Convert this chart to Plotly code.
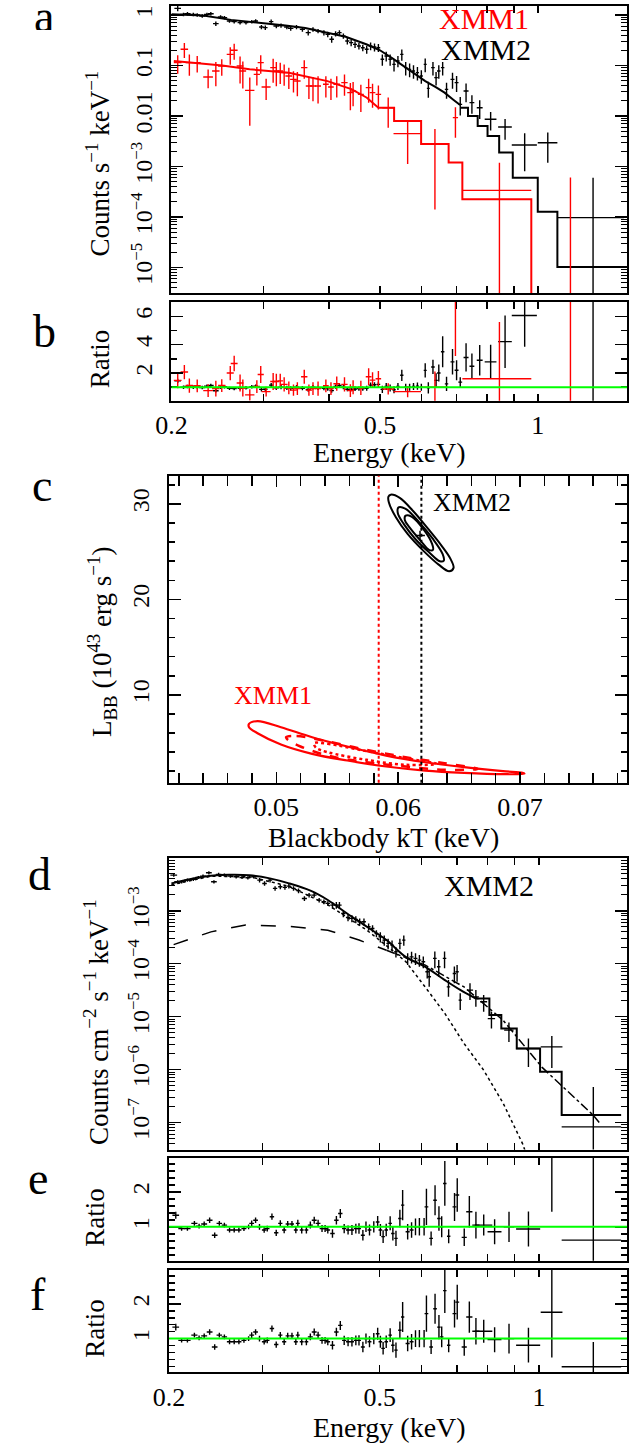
import math
import plotly.graph_objects as go

W, H = 629, 1445
FONT = "Liberation Serif, Times New Roman, DejaVu Serif, serif"
RED = "#ff0000"
GREEN = "#00ff00"

# ================= Panel a / b : XMM2 (black) =================
a2_E = [0.2056, 0.2109, 0.2146, 0.2202, 0.2240, 0.2290, 0.2338, 0.2378, 0.2431, 0.2482,
        0.2525, 0.2581, 0.2635, 0.2704, 0.2775, 0.2847, 0.2896, 0.2970, 0.3021, 0.3100,
        0.3171, 0.3237, 0.3321, 0.3378, 0.3465, 0.3556, 0.3648, 0.3725, 0.3809, 0.3908,
        0.3975, 0.4044, 0.4114, 0.4184, 0.4257, 0.4332, 0.4405, 0.4481, 0.4558, 0.4636,
        0.4717, 0.4798, 0.4881, 0.4965, 0.5052, 0.5139, 0.5228, 0.5318, 0.5410, 0.5503,
        0.5598, 0.5695, 0.5793, 0.5894, 0.5996, 0.6099, 0.6183, 0.6310, 0.6397, 0.6474,
        0.6585, 0.6698, 0.6876, 0.7000, 0.7114, 0.7298, 0.7488, 0.7749, 0.8130, 0.8662,
        0.9441, 1.0450, 1.2750]
a2_v = [1.35, 1.03, 1.06, 1.03, 1.00, 0.955, 1.03, 1.06, 0.674, 0.913,
        0.886, 0.761, 0.738, 0.705, 0.705, 0.738, 0.761, 0.578, 0.561, 0.738,
        0.605, 0.620, 0.578, 0.544, 0.578, 0.520, 0.447, 0.520, 0.482, 0.447,
        0.414, 0.330, 0.427, 0.447, 0.384, 0.306, 0.283, 0.262, 0.243, 0.225,
        0.209, 0.243, 0.232, 0.225, 0.1325, 0.154, 0.1325, 0.1054, 0.1228, 0.166,
        0.0906, 0.0839, 0.0778, 0.0721, 0.0619, 0.1054, 0.0353, 0.0906, 0.0574, 0.0778,
        0.0906, 0.0337, 0.0532, 0.0457, 0.0170, 0.0313, 0.0184, 0.0146, 0.0086, 0.00605,
        0.00267, 0.00296, 9.7e-5]
a2_rerr = [0.12, 0.08, 0.08, 0.08, 0.08, 0.08, 0.08, 0.08, 0.10, 0.08,
           0.08, 0.08, 0.08, 0.08, 0.08, 0.08, 0.08, 0.10, 0.10, 0.10,
           0.10, 0.10, 0.10, 0.10, 0.10, 0.10, 0.12, 0.10, 0.10, 0.12,
           0.12, 0.15, 0.12, 0.12, 0.12, 0.15, 0.15, 0.15, 0.15, 0.15,
           0.18, 0.18, 0.18, 0.18, 0.25, 0.22, 0.25, 0.28, 0.25, 0.25,
           0.30, 0.30, 0.30, 0.30, 0.30, 0.30, 0.35, 0.30, 0.30, 0.30,
           0.30, 0.35, 0.35, 0.35, 0.40, 0.40, 0.40, 0.40, 0.40, 0.44,
           0.70, 0.60, 5.2]
a2_dE = [0.003, 0.003, 0.003, 0.003, 0.003, 0.003, 0.003, 0.003, 0.003, 0.003,
         0.003, 0.003, 0.003, 0.003, 0.003, 0.003, 0.003, 0.003, 0.003, 0.003,
         0.004, 0.004, 0.004, 0.004, 0.004, 0.004, 0.004, 0.004, 0.004, 0.004,
         0.004, 0.004, 0.004, 0.004, 0.004, 0.004, 0.004, 0.004, 0.004, 0.004,
         0.004, 0.004, 0.004, 0.004, 0.004, 0.004, 0.004, 0.004, 0.004, 0.004,
         0.004, 0.004, 0.004, 0.004, 0.004, 0.004, 0.004, 0.005, 0.005, 0.005,
         0.005, 0.005, 0.006, 0.006, 0.006, 0.008, 0.008, 0.010, 0.021, 0.026,
         0.052, 0.045, 0.185]
b2_r = [1.45, 1.00, 1.05, 1.00, 1.02, 0.98, 1.08, 1.12, 0.75, 1.00,
        1.03, 0.92, 0.90, 0.93, 0.96, 1.03, 1.08, 0.85, 0.86, 1.15,
        0.96, 1.00, 0.95, 0.92, 1.00, 0.93, 0.84, 1.00, 0.96, 0.93,
        0.90, 0.76, 1.05, 1.12, 1.00, 0.86, 0.86, 0.88, 0.90, 0.90,
        0.93, 1.15, 1.18, 1.20, 0.85, 1.05, 0.95, 0.82, 1.05, 1.84,
        1.00, 1.00, 1.05, 1.08, 1.00, 2.19, 0.96, 2.43, 1.48, 2.00,
        3.50, 1.24, 2.79, 2.20, 1.36, 3.10, 2.48, 2.90, 2.79, 4.21,
        6.05, 20.0, 9.5]
b2_err = [0.15, 0.12, 0.12, 0.12, 0.12, 0.12, 0.12, 0.12, 0.12, 0.12,
          0.12, 0.12, 0.12, 0.12, 0.12, 0.12, 0.12, 0.15, 0.15, 0.15,
          0.15, 0.15, 0.15, 0.15, 0.15, 0.15, 0.15, 0.15, 0.15, 0.15,
          0.15, 0.15, 0.15, 0.15, 0.15, 0.15, 0.15, 0.15, 0.15, 0.15,
          0.18, 0.18, 0.18, 0.18, 0.25, 0.25, 0.25, 0.25, 0.25, 0.40,
          0.25, 0.25, 0.25, 0.25, 0.25, 0.50, 0.40, 0.50, 0.50, 0.60,
          1.10, 0.50, 0.90, 0.70, 0.35, 1.00, 0.90, 1.07, 1.20, 1.85,
          2.20, 12.0, 12.0]

# ================= Panel a / b : XMM1 (red) =================
a1_E = [0.2056, 0.2117, 0.2164, 0.2240, 0.2350, 0.2431, 0.2495, 0.2590, 0.2635, 0.2704,
        0.2737, 0.2822, 0.2911, 0.2961, 0.3032, 0.3127, 0.3171, 0.3226, 0.3282, 0.3350,
        0.3419, 0.3478, 0.3585, 0.3659, 0.3725, 0.3809, 0.3942, 0.4031, 0.4135, 0.4278,
        0.4390, 0.4443, 0.4597, 0.4757, 0.4839, 0.4965, 0.5184, 0.5646, 0.6365, 0.6965,
        0.8450, 1.1544]
a1_v = [0.1138, 0.209, 0.1138, 0.1138, 0.0592, 0.0778, 0.0977, 0.166, 0.1997, 0.0977,
        0.0778, 0.0322, 0.0668, 0.1138, 0.0375, 0.0906, 0.0778, 0.0778, 0.0721, 0.0619,
        0.0532, 0.0493, 0.0906, 0.0393, 0.0393, 0.0393, 0.0424, 0.0375, 0.0424, 0.0457,
        0.0290, 0.0313, 0.0268, 0.0364, 0.0290, 0.0268, 0.0146, 0.00447, 0.00283, 0.00927,
        3.37e-4, 2e-6]
a1_rerr = [0.40, 0.33, 0.45, 0.36, 0.40, 0.50, 0.36, 0.38, 0.35, 0.55,
           0.55, 0.80, 0.40, 0.40, 0.45, 0.50, 0.50, 0.45, 0.45, 0.45,
           0.45, 0.50, 0.40, 0.45, 0.50, 0.55, 0.45, 0.45, 0.45, 0.45,
           0.55, 0.50, 0.55, 0.50, 0.50, 0.50, 0.60, 0.75, 0.95, 0.60,
           2.5, 300.0]
a1_dE = [0.0035, 0.0035, 0.0035, 0.0035, 0.005, 0.004, 0.004, 0.004, 0.004, 0.004,
         0.004, 0.0058, 0.004, 0.004, 0.006, 0.004, 0.004, 0.004, 0.005, 0.005,
         0.005, 0.005, 0.005, 0.005, 0.005, 0.005, 0.005, 0.005, 0.006, 0.006,
         0.006, 0.006, 0.006, 0.006, 0.006, 0.006, 0.0133, 0.034, 0.038, 0.008,
         0.127, 0.0]
b1_r = [1.48, 2.07, 1.12, 1.10, 0.76, 0.90, 1.12, 2.00, 2.67, 1.30,
        0.95, 0.46, 1.05, 1.90, 0.69, 1.40, 1.40, 1.45, 1.20, 0.95,
        0.80, 0.90, 1.74, 0.80, 0.90, 0.90, 1.10, 0.90, 1.25, 1.20,
        0.76, 1.00, 0.95, 1.74, 1.50, 1.60, 0.88, 0.69, 1.00, 7.70,
        1.60, 3.00]
b1_err = [0.55, 0.50, 0.50, 0.45, 0.45, 0.55, 0.45, 0.50, 0.55, 0.60,
          0.60, 0.40, 0.45, 0.60, 0.35, 0.60, 0.55, 0.50, 0.50, 0.45,
          0.40, 0.45, 0.50, 0.40, 0.45, 0.50, 0.45, 0.45, 0.50, 0.50,
          0.45, 0.50, 0.50, 0.60, 0.55, 0.55, 0.40, 0.40, 1.10, 4.50,
          4.00, 12.0]

# models, panel a (smooth part + binned steps)
m2s_E = [0.200, 0.230, 0.260, 0.297, 0.330, 0.360, 0.397, 0.430, 0.472, 0.500,
         0.530, 0.560, 0.585, 0.610, 0.640, 0.664, 0.690, 0.711]
m2s_v = [1.03, 0.98, 0.80, 0.70, 0.62, 0.55, 0.45, 0.37, 0.26, 0.20,
         0.135, 0.09, 0.066, 0.049, 0.037, 0.029, 0.021, 0.0165]
m2h_E = [0.711, 0.736, 0.768, 0.802, 0.844, 0.896, 1.000, 1.090, 1.480]
m2h_v = [0.0146, 0.0100, 0.0063, 0.0040, 0.0019, 6.0e-4, 1.27e-4, 1.02e-5, 1.02e-5]
m1s_E = [0.2021, 0.250, 0.282, 0.335, 0.397, 0.441, 0.472, 0.4965]
m1s_v = [0.123, 0.100, 0.084, 0.072, 0.049, 0.034, 0.023, 0.0146]
m1h_E = [0.4965, 0.532, 0.599, 0.676, 0.718, 0.972, 1.480]
m1h_v = [0.0146, 0.0080, 0.0028, 0.0012, 2.24e-4, 1e-8, 1e-8]

# ================= Panel c : contours =================
c2_outer_T = [0.05939, 0.06013, 0.06124, 0.06246, 0.06355, 0.06429, 0.06454, 0.06418,
              0.06332, 0.06205, 0.06077, 0.05981, 0.05923, 0.05920, 0.05939]
c2_outer_L = [30.97, 30.63, 29.23, 27.38, 25.63, 24.24, 23.30, 22.94,
              23.64, 25.11, 26.86, 28.60, 30.17, 30.76, 30.97]
c2_mid_T = [0.06003, 0.06061, 0.06173, 0.06285, 0.06364, 0.06374, 0.06342, 0.06253,
            0.06140, 0.06045, 0.05997, 0.06003]
c2_mid_L = [29.64, 29.48, 28.07, 26.33, 24.76, 24.06, 23.99, 24.93,
            26.33, 27.91, 29.02, 29.64]
c2_in_T = [0.06061, 0.06109, 0.06205, 0.06278, 0.06285, 0.06253, 0.06183, 0.06093,
           0.06054, 0.06061]
c2_in_L = [28.77, 28.67, 27.38, 25.81, 25.18, 25.18, 26.16, 27.55, 28.32, 28.77]
c2_best_T = [0.06179]
c2_best_L = [26.68]
c1_outer_T = [0.04776, 0.04846, 0.05038, 0.05294, 0.05582, 0.05901, 0.06221, 0.06540,
              0.06860, 0.07020, 0.07036, 0.06860, 0.06540, 0.06221, 0.05901, 0.05582,
              0.05294, 0.05038, 0.04846, 0.04776, 0.04776]
c1_outer_L = [6.96, 7.24, 6.61, 5.56, 4.59, 3.64, 2.94, 2.42,
              2.00, 1.83, 1.73, 1.69, 1.83, 2.07, 2.49, 3.12,
              3.82, 4.80, 5.98, 6.61, 6.96]
c1_mid_T = [0.05080, 0.05166, 0.05422, 0.05741, 0.06061, 0.06380, 0.06652, 0.06380,
            0.06061, 0.05741, 0.05422, 0.05198, 0.05102, 0.05080]
c1_mid_L = [5.56, 5.70, 5.11, 4.24, 3.47, 2.84, 2.25, 2.15,
            2.49, 2.94, 3.64, 4.59, 5.21, 5.56]
c1_in_T = [0.05310, 0.05422, 0.05741, 0.06061, 0.06316, 0.06061, 0.05741, 0.05422,
           0.05326, 0.05310]
c1_in_L = [4.93, 4.87, 4.10, 3.36, 2.77, 2.67, 3.19, 3.99, 4.45, 4.93]
best_T_xmm1 = 0.0584
best_T_xmm2 = 0.0619

# ================= Panel d : unfolded XMM2 =================
d_E = [0.2041, 0.2076, 0.2112, 0.2166, 0.2222, 0.2272, 0.2318, 0.2378, 0.2431, 0.2481,
       0.2544, 0.2611, 0.2678, 0.2747, 0.2818, 0.2890, 0.2965, 0.3030, 0.3103, 0.3172,
       0.3245, 0.3311, 0.3368, 0.3437, 0.3513, 0.3604, 0.3678, 0.3760, 0.3843, 0.3923,
       0.3990, 0.4072, 0.4141, 0.4197, 0.4269, 0.4357, 0.4431, 0.4507, 0.4584, 0.4670,
       0.4766, 0.4848, 0.4930, 0.5015, 0.5101, 0.5188, 0.5277, 0.5367, 0.5460, 0.5554,
       0.5648, 0.5745, 0.5844, 0.5944, 0.6046, 0.6150, 0.6203, 0.6357, 0.6466, 0.6632,
       0.6746, 0.6921, 0.7004, 0.7100, 0.7408, 0.7600, 0.7862, 0.8133, 0.8776, 0.9553,
       1.0577, 1.2670]
d_v = [4.73e-3, 3.54e-3, 3.54e-3, 3.80e-3, 3.92e-3, 4.27e-3, 4.53e-3, 5.24e-3, 3.54e-3, 4.87e-3,
       4.73e-3, 4.53e-3, 4.40e-3, 4.27e-3, 4.21e-3, 4.40e-3, 3.80e-3, 3.29e-3, 3.80e-3, 2.65e-3,
       2.85e-3, 2.77e-3, 2.93e-3, 2.65e-3, 2.39e-3, 1.71e-3, 1.98e-3, 1.98e-3, 1.59e-3, 1.48e-3,
       1.38e-3, 1.28e-3, 1.28e-3, 1.28e-3, 8.92e-4, 7.49e-4, 7.18e-4, 6.87e-4, 6.20e-4, 6.20e-4,
       4.99e-4, 4.64e-4, 3.73e-4, 3.23e-4, 2.79e-4, 2.42e-4, 2.25e-4, 1.68e-4, 2.42e-4, 2.79e-4,
       1.26e-4, 1.35e-4, 1.26e-4, 1.17e-4, 1.09e-4, 7.04e-5, 5.66e-5, 1.26e-4, 8.75e-5, 1.26e-4,
       3.66e-5, 6.55e-5, 7.04e-5, 2.05e-5, 3.17e-5, 2.37e-5, 1.91e-5, 9.2e-6, 5.56e-6, 2.50e-6,
       2.69e-6, 8.27e-8]
d_rerr = [0.07, 0.07, 0.07, 0.07, 0.07, 0.07, 0.07, 0.07, 0.07, 0.07,
          0.07, 0.07, 0.07, 0.07, 0.07, 0.07, 0.10, 0.10, 0.10, 0.10,
          0.10, 0.10, 0.10, 0.10, 0.10, 0.10, 0.10, 0.10, 0.10, 0.10,
          0.10, 0.15, 0.15, 0.15, 0.15, 0.15, 0.15, 0.15, 0.15, 0.15,
          0.15, 0.15, 0.15, 0.22, 0.22, 0.22, 0.22, 0.22, 0.22, 0.22,
          0.25, 0.25, 0.25, 0.25, 0.25, 0.25, 0.35, 0.35, 0.35, 0.35,
          0.35, 0.35, 0.35, 0.35, 0.35, 0.35, 0.35, 0.35, 0.40, 0.55,
          0.60, 4.7]
d_dE = [0.003, 0.003, 0.003, 0.003, 0.003, 0.003, 0.003, 0.003, 0.003, 0.003,
        0.003, 0.003, 0.003, 0.003, 0.003, 0.003, 0.003, 0.003, 0.003, 0.003,
        0.003, 0.003, 0.003, 0.003, 0.003, 0.004, 0.004, 0.004, 0.004, 0.004,
        0.004, 0.004, 0.004, 0.004, 0.004, 0.004, 0.004, 0.004, 0.004, 0.004,
        0.004, 0.004, 0.004, 0.004, 0.004, 0.004, 0.004, 0.004, 0.004, 0.004,
        0.005, 0.005, 0.005, 0.005, 0.005, 0.005, 0.005, 0.005, 0.005, 0.005,
        0.005, 0.005, 0.005, 0.005, 0.010, 0.010, 0.012, 0.013, 0.018, 0.050,
        0.050, 0.163]
md_s_E = [0.202, 0.220, 0.240, 0.260, 0.284, 0.310, 0.337, 0.370, 0.399, 0.434,
          0.473, 0.515, 0.560, 0.610, 0.664, 0.710, 0.760]
md_s_v = [3.3e-3, 4.0e-3, 4.6e-3, 4.8e-3, 4.7e-3, 4.1e-3, 3.3e-3, 2.4e-3, 1.6e-3, 8.9e-4,
          5.0e-4, 2.8e-4, 1.35e-4, 8.7e-5, 4.9e-5, 3.2e-5, 2.2e-5]
md_h_E = [0.760, 0.806, 0.849, 0.908, 1.005, 1.104, 1.430]
md_h_v = [2.2e-5, 1.07e-5, 6.0e-6, 2.5e-6, 9.1e-7, 1.38e-7, 1.38e-7]
pl_E = [0.204, 0.240, 0.279, 0.337, 0.399, 0.457, 0.515, 0.610, 0.723, 0.856, 1.014, 1.264, 1.300]
pl_v = [2.3e-4, 4.0e-4, 5.4e-4, 5.1e-4, 4.3e-4, 2.8e-4, 1.8e-4, 9.4e-5, 3.6e-5, 8.5e-6,
        1.1e-6, 1.4e-7, 1.0e-7]
bb_E = [0.202, 0.240, 0.284, 0.337, 0.399, 0.473, 0.515, 0.560, 0.610, 0.664,
        0.722, 0.786, 0.856, 0.931, 0.948]
bb_v = [3.1e-3, 4.5e-3, 4.4e-3, 2.9e-3, 1.3e-3, 4.3e-4, 2.2e-4, 1.1e-4, 3.6e-5, 1.15e-5,
        3.1e-6, 9.8e-7, 2.3e-7, 4e-8, 2.4e-8]

# ================= Panels e / f : ratios =================
ef_E = [0.2059, 0.2112, 0.2166, 0.2233, 0.2279, 0.2330, 0.2386, 0.2439, 0.2489, 0.2544,
        0.2602, 0.2655, 0.2710, 0.2770, 0.2827, 0.2865, 0.2914, 0.2964, 0.3025, 0.3066,
        0.3129, 0.3188, 0.3245, 0.3300, 0.3351, 0.3414, 0.3472, 0.3502, 0.3562, 0.3635,
        0.3698, 0.3761, 0.3825, 0.3891, 0.3943, 0.3990, 0.4072, 0.4142, 0.4213, 0.4285,
        0.4358, 0.4432, 0.4508, 0.4570, 0.4648, 0.4711, 0.4784, 0.4874, 0.4957, 0.5016,
        0.5076, 0.5145, 0.5234, 0.5296, 0.5368, 0.5460, 0.5526, 0.5648, 0.5745, 0.5844,
        0.5944, 0.6067, 0.6129, 0.6255, 0.6363, 0.6472, 0.6550, 0.6639, 0.6752, 0.6926,
        0.7008, 0.7225, 0.7387, 0.7602, 0.7864, 0.8246, 0.8779, 0.9554, 1.0577, 1.2670]
ef_dE = [0.003, 0.003, 0.003, 0.003, 0.003, 0.003, 0.003, 0.003, 0.003, 0.003,
         0.003, 0.003, 0.003, 0.003, 0.003, 0.003, 0.003, 0.003, 0.003, 0.003,
         0.003, 0.003, 0.003, 0.003, 0.003, 0.003, 0.003, 0.003, 0.003, 0.003,
         0.004, 0.004, 0.004, 0.004, 0.004, 0.004, 0.004, 0.004, 0.004, 0.004,
         0.004, 0.004, 0.004, 0.004, 0.004, 0.004, 0.004, 0.004, 0.004, 0.004,
         0.004, 0.004, 0.004, 0.004, 0.004, 0.004, 0.004, 0.005, 0.005, 0.005,
         0.005, 0.005, 0.005, 0.005, 0.005, 0.005, 0.005, 0.005, 0.005, 0.006,
         0.006, 0.008, 0.010, 0.012, 0.030, 0.025, 0.020, 0.050, 0.050, 0.163]
e_r = [1.33, 0.95, 0.95, 1.10, 1.02, 1.08, 1.19, 0.76, 1.10, 1.05,
       0.91, 0.91, 0.91, 0.95, 1.00, 1.10, 1.19, 1.00, 0.91, 0.95,
       1.29, 0.83, 1.10, 0.91, 1.08, 1.08, 0.91, 1.10, 0.91, 0.91,
       1.05, 1.19, 1.10, 0.95, 0.95, 0.91, 0.81, 1.19, 1.38, 0.95,
       0.91, 0.91, 0.95, 0.95, 0.76, 1.00, 0.91, 1.00, 1.14, 0.91,
       0.72, 0.91, 1.10, 0.81, 0.67, 1.24, 1.62, 0.86, 0.91, 1.00,
       1.00, 1.00, 1.57, 0.67, 1.76, 1.24, 1.00, 2.24, 0.73, 1.57,
       1.91, 0.70, 1.43, 1.05, 1.05, 0.86, 1.00, 0.94, 3.10, 0.62]
e_err = [0.10, 0.06, 0.06, 0.07, 0.07, 0.07, 0.08, 0.08, 0.07, 0.07,
         0.07, 0.07, 0.07, 0.07, 0.07, 0.08, 0.08, 0.08, 0.08, 0.08,
         0.09, 0.09, 0.09, 0.09, 0.09, 0.09, 0.09, 0.10, 0.10, 0.10,
         0.10, 0.10, 0.10, 0.10, 0.10, 0.10, 0.12, 0.12, 0.13, 0.13,
         0.13, 0.14, 0.14, 0.15, 0.15, 0.15, 0.16, 0.16, 0.17, 0.17,
         0.18, 0.18, 0.20, 0.20, 0.22, 0.25, 0.43, 0.22, 0.22, 0.24,
         0.25, 0.25, 0.52, 0.20, 0.43, 0.35, 0.30, 0.64, 0.20, 0.40,
         0.48, 0.25, 0.45, 0.38, 0.30, 0.36, 0.43, 0.50, 1.67, 3.00]
f_r = [1.33, 0.95, 0.95, 1.10, 1.02, 1.08, 1.19, 0.76, 1.10, 1.05,
       0.91, 0.91, 0.91, 0.95, 1.00, 1.10, 1.19, 1.00, 0.91, 0.95,
       1.29, 0.83, 1.10, 0.91, 1.08, 1.08, 0.91, 1.10, 0.91, 0.91,
       1.05, 1.19, 1.10, 0.95, 0.95, 0.91, 0.81, 1.19, 1.38, 0.95,
       0.91, 0.91, 0.95, 0.95, 0.76, 1.00, 0.91, 1.00, 1.14, 0.91,
       0.72, 0.91, 1.10, 0.81, 0.67, 1.24, 1.62, 0.86, 0.91, 1.00,
       1.00, 1.00, 1.72, 0.76, 1.86, 1.33, 1.05, 2.38, 0.81, 1.72,
       2.05, 0.76, 1.62, 1.21, 1.21, 0.97, 1.00, 0.81, 1.76, 0.19]
f_err = [0.10, 0.06, 0.06, 0.07, 0.07, 0.07, 0.08, 0.08, 0.07, 0.07,
         0.07, 0.07, 0.07, 0.07, 0.07, 0.08, 0.08, 0.08, 0.08, 0.08,
         0.09, 0.09, 0.09, 0.09, 0.09, 0.09, 0.09, 0.10, 0.10, 0.10,
         0.10, 0.10, 0.10, 0.10, 0.10, 0.10, 0.12, 0.12, 0.13, 0.13,
         0.13, 0.14, 0.14, 0.15, 0.15, 0.15, 0.16, 0.16, 0.17, 0.17,
         0.18, 0.18, 0.20, 0.20, 0.22, 0.25, 0.43, 0.22, 0.22, 0.24,
         0.25, 0.25, 0.52, 0.20, 0.43, 0.35, 0.30, 0.64, 0.20, 0.40,
         0.50, 0.25, 0.45, 0.38, 0.33, 0.36, 0.43, 0.50, 1.30, 0.71]

# tick labels
energy_ticks = [0.2, 0.3, 0.4, 0.5, 0.6, 0.7, 0.8, 0.9, 1.0]
energy_text = ["0.2", "", "", "0.5", "", "", "", "", "1"]
a_yticks = [1e-5, 1e-4, 1e-3, 1e-2, 1e-1, 1]
a_ytext = ["10<sup>\u22125</sup>", "10<sup>\u22124</sup>", "10<sup>\u22123</sup>", "0.01", "0.1", "1"]
d_yticks = [1e-7, 1e-6, 1e-5, 1e-4, 1e-3]
d_ytext = ["10<sup>\u22127</sup>", "10<sup>\u22126</sup>", "10<sup>\u22125</sup>",
           "10<sup>\u22124</sup>", "10<sup>\u22123</sup>"]
c_xticks = [0.05, 0.06, 0.07]
c_yticks = [10, 20, 30]

# ================= figure =================
fig = go.Figure()


def data_trace(x, y, ex, ey, color, xa, ya):
    return go.Scatter(
        x=x, y=y, mode="markers", xaxis=xa, yaxis=ya,
        marker=dict(size=1, color=color),
        error_x=dict(type="data", array=ex, symmetric=True, width=0, thickness=1.4, color=color),
        error_y=dict(type="data", array=ey, symmetric=True, width=0, thickness=1.4, color=color),
        hoverinfo="skip", showlegend=False)


def line_trace(x, y, color, xa, ya, shape="linear", dash="solid", width=2):
    return go.Scatter(x=x, y=y, mode="lines", xaxis=xa, yaxis=ya,
                      line=dict(color=color, width=width, shape=shape, dash=dash),
                      hoverinfo="skip", showlegend=False)


# panel a
fig.add_trace(line_trace(m2s_E, m2s_v, "black", "x", "y"))
fig.add_trace(line_trace(m2h_E, m2h_v, "black", "x", "y", shape="hv"))
fig.add_trace(line_trace(m1s_E, m1s_v, RED, "x", "y"))
fig.add_trace(line_trace(m1h_E, m1h_v, RED, "x", "y", shape="hv"))
fig.add_trace(data_trace(a2_E, a2_v, a2_dE, [v * r for v, r in zip(a2_v, a2_rerr)], "black", "x", "y"))
fig.add_trace(data_trace(a1_E, a1_v, a1_dE, [v * r for v, r in zip(a1_v, a1_rerr)], RED, "x", "y"))
# panel b
fig.add_trace(data_trace(a2_E, b2_r, a2_dE, b2_err, "black", "x2", "y2"))
fig.add_trace(data_trace(a1_E, b1_r, a1_dE, b1_err, RED, "x2", "y2"))
# panel c
fig.add_trace(line_trace(c2_outer_T, c2_outer_L, "black", "x3", "y3", shape="spline"))
fig.add_trace(line_trace(c2_mid_T, c2_mid_L, "black", "x3", "y3", shape="spline"))
fig.add_trace(line_trace(c2_in_T, c2_in_L, "black", "x3", "y3", shape="spline"))
fig.add_trace(go.Scatter(x=c2_best_T, y=c2_best_L, mode="markers", xaxis="x3", yaxis="y3",
                         marker=dict(symbol="cross-thin", size=7, line=dict(color="black", width=1.5)),
                         hoverinfo="skip", showlegend=False))
fig.add_trace(line_trace(c1_outer_T, c1_outer_L, RED, "x3", "y3", shape="spline", width=2.2))
fig.add_trace(line_trace(c1_mid_T, c1_mid_L, RED, "x3", "y3", shape="spline", dash="dash", width=2.5))
fig.add_trace(line_trace(c1_in_T, c1_in_L, RED, "x3", "y3", shape="spline", dash="dot", width=2.5))
# panel d
fig.add_trace(line_trace(bb_E, bb_v, "black", "x4", "y4", dash="dot", width=1.5))
fig.add_trace(line_trace(pl_E[:7], pl_v[:7], "black", "x4", "y4", dash="longdash", width=1.5))
fig.add_trace(line_trace(pl_E[6:], pl_v[6:], "black", "x4", "y4", dash="dashdot", width=1.5))
fig.add_trace(line_trace(md_s_E, md_s_v, "black", "x4", "y4", shape="spline"))
fig.add_trace(line_trace(md_h_E, md_h_v, "black", "x4", "y4", shape="hv"))
fig.add_trace(data_trace(d_E, d_v, d_dE, [v * r for v, r in zip(d_v, d_rerr)], "black", "x4", "y4"))
# panels e, f
fig.add_trace(data_trace(ef_E, e_r, ef_dE, e_err, "black", "x5", "y5"))
fig.add_trace(data_trace(ef_E, f_r, ef_dE, f_err, "black", "x6", "y6"))


# ---------- layout ----------
def xd(l, r):
    return [l / W, r / W]


def yd(t, b):
    return [1 - b / H, 1 - t / H]


TFX = dict(family=FONT, size=26, color="black")
TFY = dict(family=FONT, size=24, color="black")
common = dict(showline=True, linecolor="black", linewidth=2, mirror="ticks", ticks="inside",
              tickcolor="black", tickwidth=1.5, showgrid=False, zeroline=False)
log_minor = [m * 10 ** k for k in range(-9, 1) for m in range(2, 10)]
E_range = [math.log10(0.2), math.log10(1.48)]
Ed_range = [math.log10(0.2), math.log10(1.467)]


def ex_axis(dom, anchor, labels, rng):
    return dict(common, type="log", domain=dom, anchor=anchor, range=rng, tickfont=TFX,
                tickmode="array", tickvals=energy_ticks, ticktext=energy_text, ticklen=7,
                showticklabels=labels, ticklabelstandoff=0)


def minor_lin(step):
    return dict(ticks="inside", ticklen=6, tickcolor="black", tickwidth=1.5,
                dtick=step, tick0=0, showgrid=False)


minor_log = dict(ticks="inside", ticklen=6, tickcolor="black", tickwidth=1,
                 tickmode="array", tickvals=log_minor, showgrid=False)

layout = dict(
    width=W, height=H, margin=dict(l=0, r=0, t=0, b=0), autosize=False,
    paper_bgcolor="white", plot_bgcolor="white", showlegend=False,
    font=dict(family=FONT, color="black"),
    xaxis=ex_axis(xd(160, 629), "y", False, E_range),
    xaxis2=ex_axis(xd(160, 629), "y2", True, E_range),
    xaxis4=ex_axis(xd(157.6, 629), "y4", False, Ed_range),
    xaxis5=ex_axis(xd(157.6, 629), "y5", False, Ed_range),
    xaxis6=ex_axis(xd(157.6, 629), "y6", True, Ed_range),
    xaxis3=dict(common, domain=xd(157.3, 629), anchor="y3", range=[0.04118, 0.07877],
                tickfont=TFX, tickmode="array", tickvals=c_xticks,
                ticktext=["0.05", "0.06", "0.07"], ticklen=11, ticklabelstandoff=0,
                minor=dict(ticks="inside", ticklen=10, tickcolor="black", tickwidth=1.5,
                           dtick=0.002, tick0=0.0, showgrid=False)),
    yaxis=dict(common, type="log", domain=yd(5, 292.7), anchor="x", range=[-5.515, 0.178],
               tickfont=TFY, tickmode="array", tickvals=a_yticks, ticktext=a_ytext,
               tickangle=-90, ticklen=12, ticklabelstandoff=8, minor=minor_log),
    yaxis2=dict(common, domain=yd(301, 400), anchor="x2", range=[0.05, 7.02],
                tickfont=TFY, tickmode="array", tickvals=[2, 4, 6], ticktext=["2", "4", "6"],
                tickangle=-90, ticklen=12, ticklabelstandoff=8, minor=minor_lin(1)),
    yaxis3=dict(common, domain=yd(475, 782.3), anchor="x3", range=[0.79, 32.96],
                tickfont=TFY, tickmode="array", tickvals=c_yticks, ticktext=["10", "20", "30"],
                tickangle=-90, ticklen=12, ticklabelstandoff=8, minor=minor_lin(2)),
    yaxis4=dict(common, type="log", domain=yd(858, 1149.3), anchor="x4", range=[-7.51, -2.01],
                tickfont=TFY, tickmode="array", tickvals=d_yticks, ticktext=d_ytext,
                tickangle=-90, ticklen=12, ticklabelstandoff=8, minor=minor_log),
    yaxis5=dict(common, domain=yd(1157.7, 1260.7), anchor="x5", range=[0.03, 2.97],
                tickfont=TFY, tickmode="array", tickvals=[1, 2], ticktext=["1", "2"],
                tickangle=-90, ticklen=12, ticklabelstandoff=8, minor=minor_lin(0.2)),
    yaxis6=dict(common, domain=yd(1270, 1372.3), anchor="x6", range=[0.03, 2.97],
                tickfont=TFY, tickmode="array", tickvals=[1, 2], ticktext=["1", "2"],
                tickangle=-90, ticklen=12, ticklabelstandoff=8, minor=minor_lin(0.2)),
)
fig.update_layout(**layout)

# reference lines
shapes = []
for xa, ya in (("x2", "y2"), ("x5", "y5"), ("x6", "y6")):
    shapes.append(dict(type="line", xref=xa + " domain", yref=ya, x0=0, x1=1, y0=1, y1=1,
                       line=dict(color=GREEN, width=2), layer="above"))
shapes.append(dict(type="line", xref="x3", yref="y3 domain", x0=best_T_xmm1, x1=best_T_xmm1,
                   y0=0, y1=1, line=dict(color=RED, width=2, dash="dot")))
shapes.append(dict(type="line", xref="x3", yref="y3 domain", x0=best_T_xmm2, x1=best_T_xmm2,
                   y0=0, y1=1, line=dict(color="black", width=2, dash="dot")))
fig.update_layout(shapes=shapes)


def ann(text, px, py, size, color="black", angle=0, **kw):
    d = dict(text=text, x=px / W, y=1 - py / H, xref="paper", yref="paper",
             xanchor="center", yanchor="middle", showarrow=False, textangle=angle,
             font=dict(family=FONT, size=size, color=color))
    d.update(kw)
    return d


annotations = [
    ann("a", 29, 15, 46, height=28, valign="middle"),
    ann("b", 29, 331, 46), ann("c", 27, 485, 46),
    ann("d", 24, 874, 46), ann("e", 23, 1178, 46), ann("f", 23, 1294, 46),
    ann("Counts s<sup>\u22121</sup> keV<sup>\u22121</sup>", 84, 163, 27, angle=-90),
    ann("Ratio", 86, 358, 27, angle=-90),
    ann("Energy (keV)", 384, 452, 28),
    ann("L<sub>BB</sub> (10<sup>43</sup> erg s<sup>\u22121</sup>)", 88, 641, 27, angle=-90),
    ann("Blackbody kT (keV)", 378, 837, 28),
    ann("Counts cm<sup>\u22122</sup> s<sup>\u22121</sup> keV<sup>\u22121</sup>", 83, 1022, 27, angle=-90),
    ann("Ratio", 81, 1217, 27, angle=-90),
    ann("Ratio", 81, 1328, 27, angle=-90),
    ann("Energy (keV)", 385, 1427, 28),
    ann("XMM1", 482, 18, 30, color=RED),
    ann("XMM2", 484, 49, 30),
    ann("XMM2", 469, 502, 26),
    ann("XMM1", 265, 695, 26, color=RED),
    ann("XMM2", 487, 885, 30),
]
fig.update_layout(annotations=annotations)

fig.write_html(
    "out.html",
    config={"displayModeBar": False, "staticPlot": True},
    post_script="document.body.style.margin='0px';document.body.style.padding='0px';"
                "document.body.style.overflow='hidden';"
                "document.documentElement.style.overflow='hidden';",
)
